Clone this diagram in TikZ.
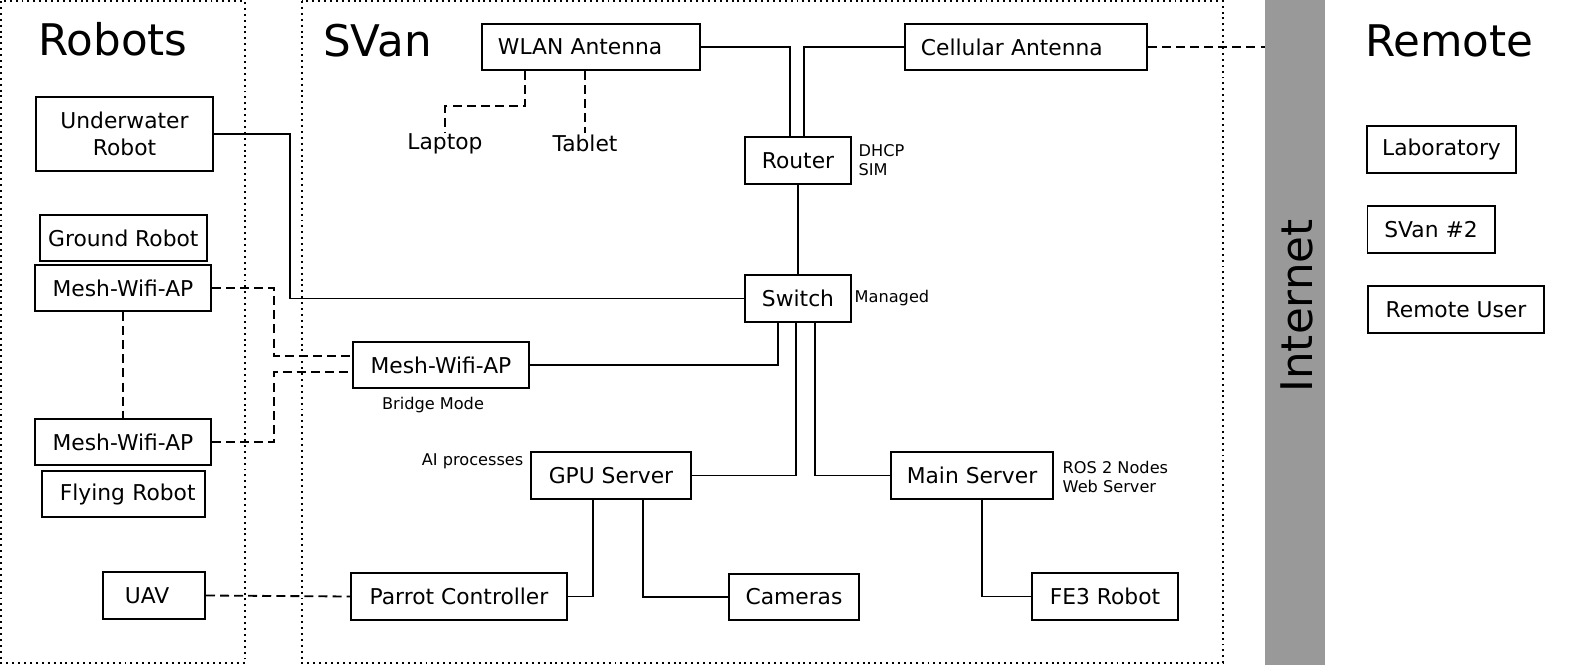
\documentclass[tikz,border=0pt]{standalone}
\usepackage{fontspec}
\setmainfont{DejaVu Sans}
\usetikzlibrary{positioning}
\definecolor{netgray}{RGB}{153,153,153}
\tikzset{
  box/.style={draw, line width=1.4pt, inner xsep=0.4cm, inner ysep=0pt, minimum height=1.16cm, font=\fontsize{15.5}{19}\selectfont},
  lbl/.style={inner sep=1pt, font=\fontsize{15.5}{19}\selectfont},
  note/.style={inner sep=1pt, font=\fontsize{11.5}{14}\selectfont},
  title/.style={inner sep=0pt, font=\fontsize{31}{37}\selectfont},
  wire/.style={line width=1.3pt},
  wless/.style={line width=1.3pt, dash pattern=on 6.4pt off 3.6pt},
  zone/.style={line width=1.4pt, dash pattern=on 1.4pt off 2.8pt}
}
\begin{document}
\begin{tikzpicture}[x=0.025cm, y=-0.025cm]
\useasboundingbox (0,0) rectangle (1570,665);
% zones
\draw[zone] (1,1) rectangle (245,663);
\draw[zone] (302,1) rectangle (1223,663);
\node[fill=netgray, inner sep=0pt, minimum width=1.5cm, minimum height=16.625cm] (inet) at (1295,332.5) {};
\node[title, rotate=90] (inetlbl) at (1297,306) {Internet};
\node[title, anchor=base west] (robots) at (38,55) {Robots};
\node[title, anchor=base west] (svan) at (323,56) {SVan};
\node[title, anchor=base west] (remote) at (1365,56) {Remote};

% robots
\node[box, minimum width=4.425cm, minimum height=1.85cm, align=center] (uw) at (124.5,134) {Underwater\\Robot};
\node[box, inner xsep=0.17cm, minimum width=4.17cm] (ground) at (123.3,238) {Ground Robot};
\node[box, minimum width=4.4cm] (meshA) at (123,288) {Mesh-Wifi-AP};
\node[box, minimum width=4.4cm] (meshB) at (123,442) {Mesh-Wifi-AP};
\node[box, inner xsep=0.23cm, text width=3.61cm, align=right] (flying) at (123.3,494) {Flying Robot};
\node[box, inner xsep=0.55cm, text width=1.45cm, align=left] (uav) at (154,595.5) {UAV};

% svan
\node[box, text width=4.65cm, align=left] (wlan) at (591,47) {WLAN Antenna};
\node[box, text width=5.25cm, align=left] (cell) at (1026,47) {Cellular Antenna};
\node[lbl] (laptop) at (445,144) {Laptop};
\node[lbl] (tablet) at (585,143) {Tablet};
\node[box, minimum width=2.65cm] (router) at (798,160.5) {Router};
\node[box, minimum width=2.65cm] (sw) at (798,298.5) {Switch};
\node[box, minimum width=4.4cm] (meshS) at (441,365) {Mesh-Wifi-AP};
\node[box, minimum width=4cm] (gpu) at (611,475.5) {GPU Server};
\node[box, minimum width=4.05cm] (main) at (972,475.5) {Main Server};
\node[box, minimum width=5.4cm] (parrot) at (459,596.5) {Parrot Controller};
\node[box, minimum width=3.25cm] (cam) at (794,597) {Cameras};
\node[box, minimum width=3.65cm] (fe3) at (1105,596.5) {FE3 Robot};
\node[note, align=left, anchor=west] (rtnote) at (857,160) {DHCP\\SIM};
\node[note, anchor=west] (swnote) at (853,298) {Managed};
\node[note] (brnote) at (433,405) {Bridge Mode};
\node[note, anchor=east] (ainote) at (525,461) {AI processes};
\node[note, align=left, anchor=west] (msnote) at (1061,477) {ROS 2 Nodes\\Web Server};

% remote
\node[box, inner xsep=0.35cm, minimum width=3.725cm] (lab) at (1441.5,149.5) {Laboratory};
\node[box, minimum width=3.175cm] (svan2) at (1431,229.5) {SVan \#2};
\node[box, minimum width=4.4cm] (ruser) at (1456,309.5) {Remote User};

% links
\draw[wire] (uw.east) -- ++(76,0) |- (sw.west);
\draw[wless] (meshA.east) -- ++(62,0) |- ([yshift=0.225cm]meshS.west);
\draw[wless] (meshB.east) -- ++(62,0) |- ([yshift=-0.175cm]meshS.west);
\draw[wless] (meshA.south) -- (meshB.north);
\draw[wless] (uav.east) -- (parrot.west);
\draw[wire] ([xshift=-0.5cm]sw.south) |- (meshS.east);
\draw[wire] ([xshift=-0.05cm]sw.south) |- (gpu.east);
\draw[wire] ([xshift=0.425cm]sw.south) |- (main.west);
\draw[wire] (router.south) -- (sw.north);
\draw[wire] (wlan.east) -| ([xshift=-0.2cm]router.north);
\draw[wire] (cell.west) -| ([xshift=0.15cm]router.north);
\draw[wless] (cell.east) -- (cell.east -| inet.west);
\draw[wless] ([xshift=-1.65cm]wlan.south) -- ++(0,35) -| (laptop.north);
\draw[wless] (tablet.north |- wlan.south) -- (tablet.north);
\draw[wire] ([xshift=-0.45cm]gpu.south) |- (parrot.east);
\draw[wire] ([xshift=0.8cm]gpu.south) |- (cam.west);
\draw[wire] ([xshift=0.24cm]main.south) |- (fe3.west);
\end{tikzpicture}
\end{document}
